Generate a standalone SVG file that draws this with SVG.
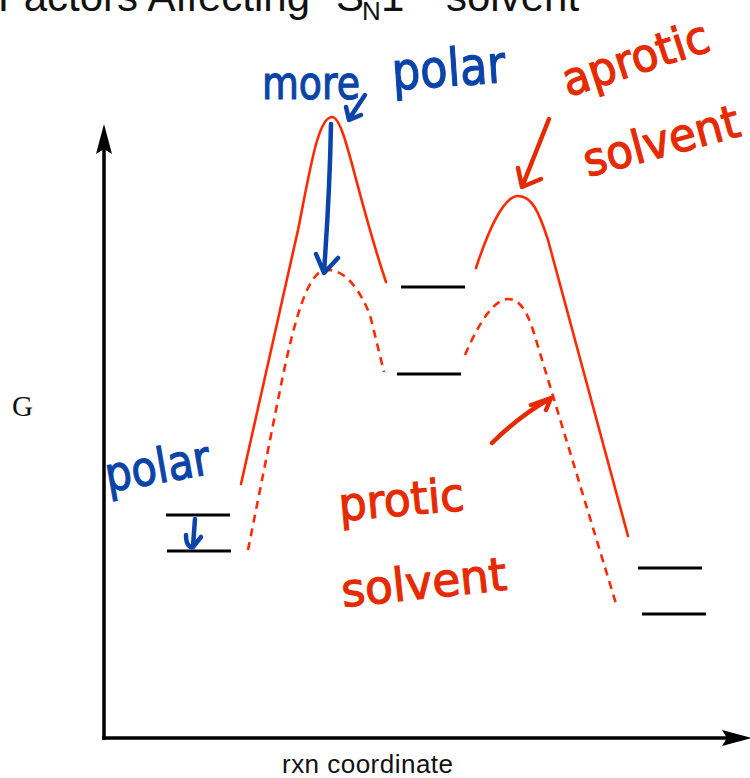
<svg xmlns="http://www.w3.org/2000/svg" width="750" height="778" viewBox="0 0 750 778">
<style>
.title{font-family:"Liberation Sans",Arial,sans-serif;fill:#111}
.axis{stroke:#000;stroke-width:3.5;fill:none}
.lvl{stroke:#000;stroke-width:3;fill:none}
.solid{stroke:#ff2a00;stroke-width:2.6;fill:none;stroke-linecap:round}
.dash{stroke:#ff2a00;stroke-width:2.6;fill:none;stroke-dasharray:8 6}
.hw-blue{font-family:"DejaVu Sans","Liberation Sans",sans-serif;fill:#0a44a8;stroke:#0a44a8;stroke-width:1.2}
.hw-red{font-family:"DejaVu Sans","Liberation Sans",sans-serif;fill:#e52a00;stroke:#e52a00;stroke-width:1.2}
.ab{stroke:#0a44a8;stroke-width:4.5;fill:none;stroke-linecap:round;stroke-linejoin:round}
.ar{stroke:#e52a00;stroke-width:4.5;fill:none;stroke-linecap:round;stroke-linejoin:round}
</style>
<rect width="750" height="778" fill="#fff"/>
<g id="title">
<text class="title" font-size="42" x="-2" y="11">Factors Affecting</text>
<text class="title" font-size="42" x="336" y="11">S</text>
<text class="title" font-size="26" x="362" y="20">N</text>
<text class="title" font-size="42" x="381" y="11">1</text>
<text class="title" font-size="42" x="446" y="11">solvent</text>
</g>
<g id="axes">
<line class="axis" x1="104" y1="148" x2="104" y2="740"/>
<line class="axis" x1="102" y1="738" x2="730" y2="738"/>
<path d="M104,124 L112,154 L104,149 L96,154 Z" fill="#000"/>
<path d="M752,738 L722,730 L727,738 L722,746 Z" fill="#000"/>
<text x="12" y="416" font-family="Liberation Serif,'Times New Roman',serif" font-size="29" fill="#111">G</text>
<text x="282" y="773" font-family="Liberation Sans,Arial,sans-serif" font-size="26" textLength="171" fill="#111">rxn coordinate</text>
</g>
<g id="levels">
<line class="lvl" x1="166" y1="515" x2="230" y2="515"/>
<line class="lvl" x1="167" y1="551" x2="231" y2="551"/>
<line class="lvl" x1="401" y1="287" x2="465" y2="287"/>
<line class="lvl" x1="397" y1="374" x2="461" y2="374"/>
<line class="lvl" x1="638" y1="568" x2="702" y2="568"/>
<line class="lvl" x1="642" y1="614" x2="706" y2="614"/>
</g>
<g id="curves">
<path class="solid" d="M241,484 L298,230 C310,170 318,117 332,117 C345,117 355,190 386,282"/>
<path class="solid" d="M476,268 C490,225 505,196 518,196 C532,196 539,212 548,240 L628,536"/>
<path class="dash" d="M248,550 L279,395 C290,340 305,272 325,270 C345,268 360,290 370,315 L384,372"/>
<path class="dash" d="M465,355 C480,320 495,299 508,299 C520,299 527,312 533,330 L617,607"/>
</g>
<g id="annotations">
<text class="hw-blue" font-size="46" x="262" y="99" textLength="98" lengthAdjust="spacingAndGlyphs">more</text>
<text class="hw-blue" font-size="52" x="393" y="90" textLength="114" lengthAdjust="spacingAndGlyphs" transform="rotate(-4 393 90)">polar</text>
<text class="hw-blue" font-size="48" x="108" y="492" textLength="106" lengthAdjust="spacingAndGlyphs" transform="rotate(-10 108 492)">polar</text>
<text class="hw-red" font-size="46" x="568" y="97" textLength="152" lengthAdjust="spacingAndGlyphs" transform="rotate(-18 568 97)">aprotic</text>
<text class="hw-red" font-size="46" x="588" y="177" textLength="160" lengthAdjust="spacingAndGlyphs" transform="rotate(-15 588 177)">solvent</text>
<text class="hw-red" font-size="46" x="340" y="521" textLength="126" lengthAdjust="spacingAndGlyphs" transform="rotate(-5 340 521)">protic</text>
<text class="hw-red" font-size="46" x="343" y="607" textLength="166" lengthAdjust="spacingAndGlyphs" transform="rotate(-6 343 607)">solvent</text>
</g>
<g id="connectors">
<path class="ab" d="M331,124 C330,180 327,230 324,272 M316,254 L324,273 L338,258"/>
<path class="ab" d="M365,95 L349,119 M346,107 L349,120 L361,115"/>
<path class="ab" d="M195,519 L193,546 M186,535 C186,545 190,548 193,547 L201,537"/>
<path class="ar" d="M549,119 L522,187 M518,168 L522,187 L541,179"/>
<path class="ar" d="M492,443 C510,425 530,410 551,398 M531,405 L551,398 L546,410"/>
</g>
</svg>
